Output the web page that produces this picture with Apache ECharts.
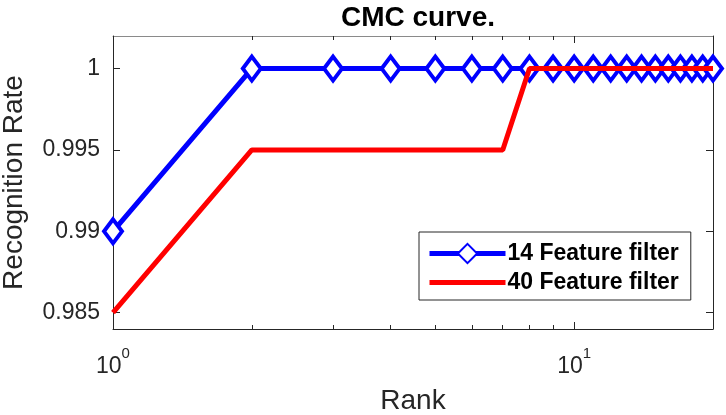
<!DOCTYPE html>
<html><head><meta charset="utf-8">
<script src="https://cdn.jsdelivr.net/npm/echarts@6/dist/echarts.min.js"></script>
<style>html,body{margin:0;padding:0;background:#fff}#c{width:726px;height:415px}</style>
</head><body><div id="c"></div>
<script>
const ranks = [1,2,3,4,5,6,7,8,9,10,11,12,13,14,15,16,17,18,19,20];
const rate14 = [0.99,1,1,1,1,1,1,1,1,1,1,1,1,1,1,1,1,1,1,1];
const rate40 = [0.985,0.995,0.995,0.995,0.995,0.995,0.995,1,1,1,1,1,1,1,1,1,1,1,1,1];
const seriesNames = ['14 Feature filter', '40 Feature filter'];
const yTicks = [0.985, 0.99, 0.995, 1];
const xMajor = [1, 10];
const xMinor = [2,3,4,5,6,7,8,9,20];
const titleText = 'CMC curve.';
const xName = 'Rank';
const yName = 'Recognition Rate';

const FF = 'Liberation Sans, Arial, sans-serif';
const AX = '#262626';
const chart = echarts.init(document.getElementById('c'), null, {renderer: 'canvas'});

function pairs(xs, ys) { return xs.map((x, i) => [x, ys[i]]); }

const xBase = {type: 'log', logBase: 10, min: 1, max: 20, splitLine: {show: false}, minorTick: {show: false}};
const hidden = {axisLine: {show: false}, axisLabel: {show: false}};

chart.setOption({
  animation: false,
  backgroundColor: '#fff',
  title: {
    text: titleText, left: 336, top: -1,
    textStyle: {fontFamily: FF, fontWeight: 'bold', fontSize: 28, color: '#000'}
  },
  grid: {left: 113, right: 13, top: 36, bottom: 86, containLabel: false, outerBoundsMode: 'none'},
  legend: {
    left: 419, top: 232, orient: 'vertical',
    data: [
      {name: seriesNames[0]},
      {name: seriesNames[1], itemStyle: {opacity: 0}}
    ],
    backgroundColor: '#fff', borderColor: AX, borderWidth: 1,
    padding: [10, 12, 6, 8],
    itemWidth: 76, itemHeight: 24, itemGap: 6,
    lineStyle: {width: 5},
    textStyle: {fontFamily: FF, fontWeight: 'bold', fontSize: 23, color: '#000', padding: [0, 0, 0, -3]}
  },
  xAxis: [
    Object.assign({}, xBase, {
      position: 'bottom',
      name: xName, nameLocation: 'middle', nameGap: 58,
      nameTextStyle: {fontFamily: FF, fontSize: 28, color: AX},
      axisLine: {show: true, lineStyle: {color: AX, width: 1}},
      axisTick: {show: true, inside: true, length: 7, customValues: xMajor, lineStyle: {color: AX}},
      axisLabel: {
        customValues: xMajor, margin: 17,
        formatter: v => '{b|10}{s|' + Math.round(Math.log10(v)) + '}',
        rich: {
          b: {fontFamily: FF, fontSize: 23, color: AX, lineHeight: 32, verticalAlign: 'bottom'},
          s: {fontFamily: FF, fontSize: 15, color: AX, lineHeight: 15, verticalAlign: 'top'}
        }
      }
    }),
    Object.assign({}, xBase, hidden, {
      position: 'bottom',
      axisTick: {show: true, inside: true, length: 4, customValues: xMinor, lineStyle: {color: AX}}
    }),
    Object.assign({}, xBase, {
      position: 'top',
      axisLine: {show: true, lineStyle: {color: '#8a8a8a', width: 1}},
      axisLabel: {show: false},
      axisTick: {show: true, inside: true, length: 7, customValues: xMajor, lineStyle: {color: AX}}
    }),
    Object.assign({}, xBase, hidden, {
      position: 'top',
      axisTick: {show: true, inside: true, length: 4, customValues: xMinor, lineStyle: {color: AX}}
    })
  ],
  yAxis: [
    {
      type: 'value', min: 0.984, max: 1.002, position: 'left',
      name: yName, nameLocation: 'middle', nameGap: 85, nameRotate: 90,
      nameTextStyle: {fontFamily: FF, fontSize: 28, color: AX},
      splitLine: {show: false},
      axisLine: {show: true, lineStyle: {color: AX, width: 1}},
      axisTick: {show: true, inside: true, length: 7, customValues: yTicks, lineStyle: {color: AX}},
      axisLabel: {
        customValues: yTicks, margin: 13,
        fontFamily: FF, fontSize: 23, color: AX,
        formatter: v => String(+Number(v).toFixed(3))
      }
    },
    {
      type: 'value', min: 0.984, max: 1.002, position: 'right',
      splitLine: {show: false},
      axisLine: {show: true, lineStyle: {color: AX, width: 1}},
      axisTick: {show: true, inside: true, length: 7, customValues: yTicks, lineStyle: {color: AX}},
      axisLabel: {show: false}
    }
  ],
  series: [
    {
      name: seriesNames[0], type: 'line', xAxisIndex: 0, yAxisIndex: 0, z: 2,
      data: pairs(ranks, rate14),
      symbol: 'diamond', symbolSize: [18, 24], showAllSymbol: true,
      lineStyle: {color: '#0000ff', width: 5},
      itemStyle: {color: '#ffffff', borderColor: '#0000ff', borderWidth: 4}
    },
    {
      name: seriesNames[1], type: 'line', xAxisIndex: 0, yAxisIndex: 0, z: 3,
      data: pairs(ranks, rate40),
      symbol: 'none',
      lineStyle: {color: '#ff0000', width: 5},
      itemStyle: {color: '#ff0000'}
    }
  ]
});
</script>
</body></html>
